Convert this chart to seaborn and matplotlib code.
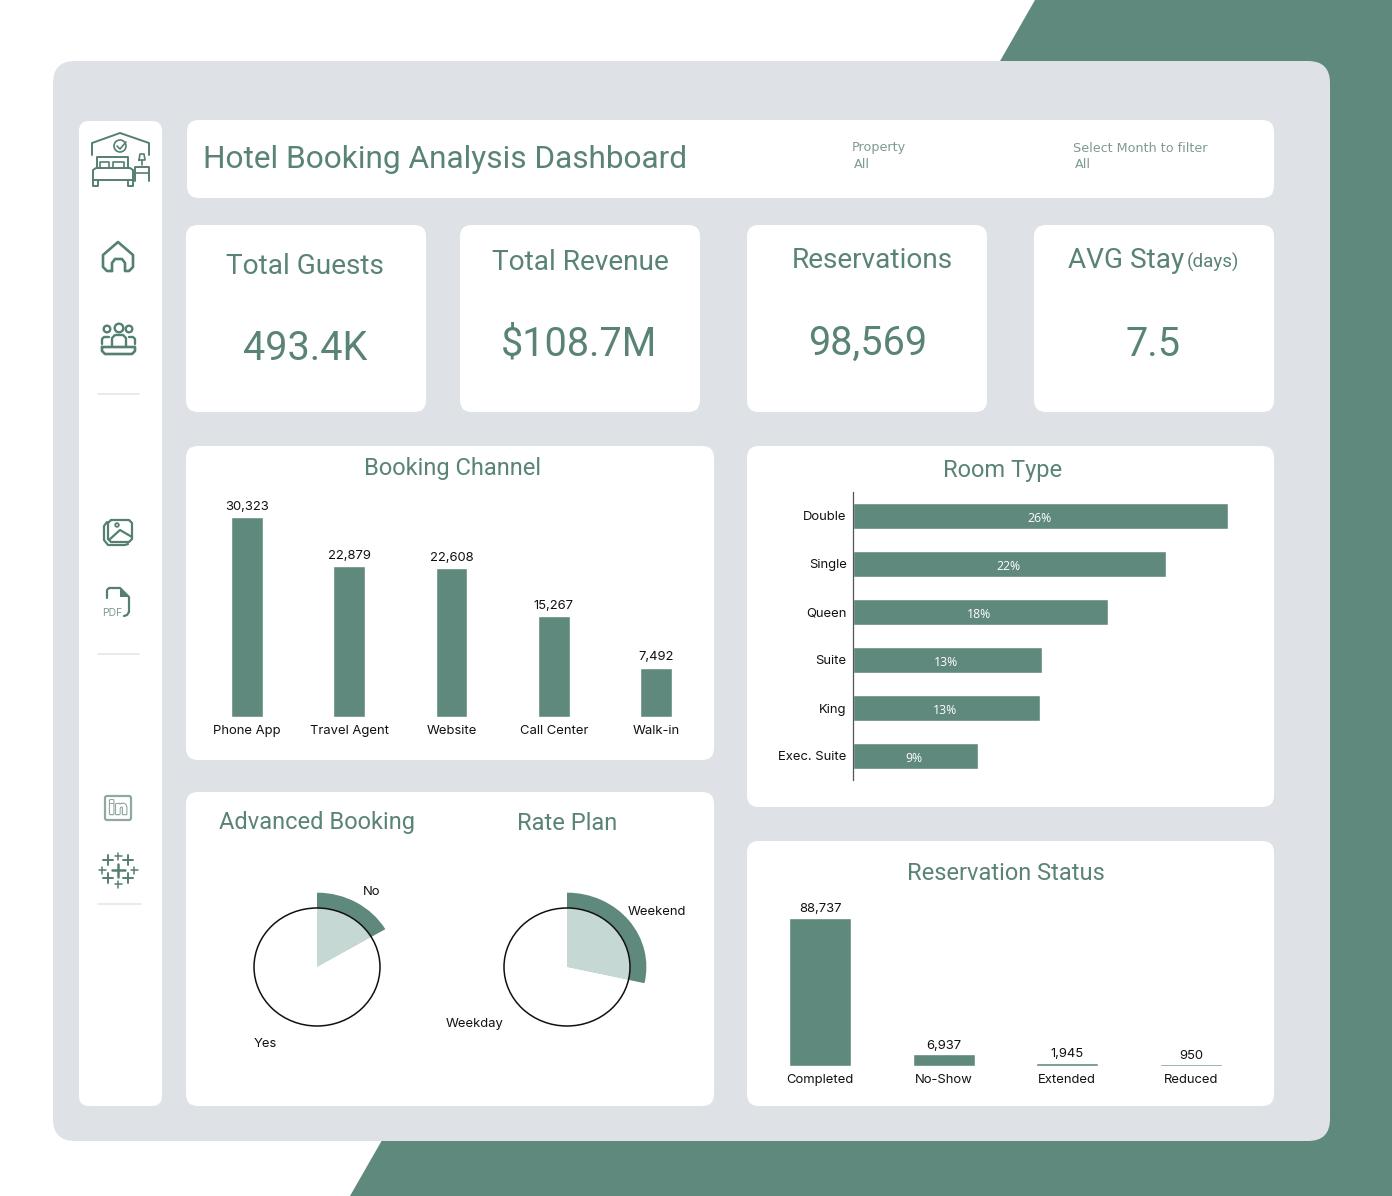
import matplotlib
matplotlib.use("Agg")
import matplotlib.pyplot as plt
import matplotlib.patheffects as pe
from matplotlib.patches import FancyBboxPatch, Polygon, Circle
import seaborn as sns

# chart values
channels = ["Phone App", "Travel Agent", "Website", "Call Center", "Walk-in"]
channel_bookings = [30323, 22879, 22608, 15267, 7492]
room_types = ["Double", "Single", "Queen", "Suite", "King", "Exec. Suite"]
room_shares = [26.0, 21.7, 17.7, 13.1, 13.0, 8.7]
statuses = ["Completed", "No-Show", "Extended", "Reduced"]
status_counts = [88737, 6937, 1945, 950]
advanced_labels = ["No", "Yes"]
advanced_shares = [16.5, 83.5]
rate_labels = ["Weekend", "Weekday"]
rate_shares = [28.5, 71.5]
kpi_names = ["Total Guests", "Total Revenue", "Reservations", "AVG Stay"]
kpi_values = ["493.4K", "$108.7M", "98,569", "7.5"]

W, H = 1392, 1196
GREEN = "#5F897C"
TEXT = "#5A8377"
LIGHT = "#C6D8D3"
PANEL = "#DEE2E7"
ICON = "#557F72"
LABEL_FONT = "Inter"

sns.set_theme(style="white")
plt.rcParams["font.family"] = ["Roboto", "DejaVu Sans"]

fig = plt.figure(figsize=(W / 100, H / 100), dpi=100, facecolor="white")

# full figure axes in pixel coordinates for cards, titles and icons
bg = fig.add_axes([0, 0, 1, 1], zorder=0)
bg.set_xlim(0, W)
bg.set_ylim(H, 0)
bg.axis("off")


def card(x0, y0, x1, y1, r=12, color="white"):
    bg.add_patch(FancyBboxPatch((x0, y0), x1 - x0, y1 - y0,
                                boxstyle=f"round,pad=0,rounding_size={r}",
                                fc=color, ec="none"))


def px_axes(x0, y0, x1, y1):
    return fig.add_axes([x0 / W, 1 - y1 / H, (x1 - x0) / W, (y1 - y0) / H], zorder=2)


def stroke(points, color=ICON, lw=1.7):
    xs, ys = zip(*points)
    bg.plot(xs, ys, color=color, lw=lw, solid_capstyle="round", solid_joinstyle="round")


def ring(x, y, r, color=ICON, lw=1.7):
    bg.add_patch(Circle((x, y), r, fc="none", ec=color, lw=lw))


def plus(x, y, s, lw=1.7):
    stroke([(x - s, y), (x + s, y)], lw=lw)
    stroke([(x, y - s), (x, y + s)], lw=lw)


def column_chart(box, names, values, bar_width, label_pad):
    ax = px_axes(*box)
    sns.barplot(x=names, y=values, color=GREEN, saturation=1, width=bar_width, ax=ax)
    ax.set_ylim(0, max(values))
    ax.set_yticks([])
    ax.tick_params(axis="x", length=0, pad=5.8, labelsize=9.4, labelcolor="#111111")
    for t in ax.get_xticklabels():
        t.set_family(LABEL_FONT)
    ax.bar_label(ax.containers[0], labels=[f"{v:,}" for v in values], padding=label_pad,
                 fontsize=9.4, color="#111111", family=LABEL_FONT)
    ax.patch.set_alpha(0)
    sns.despine(ax=ax, left=True, bottom=True)
    return ax


def pie_chart(cx, cy, shares):
    rx, ry = 63, 59
    outer = 1.26
    ax = px_axes(cx - rx * 1.4, cy - ry * 1.4, cx + rx * 1.4, cy + ry * 1.4)
    ax.pie(shares, radius=outer, startangle=90, counterclock=False,
           colors=[GREEN, "none"], wedgeprops={"linewidth": 0})
    ax.pie(shares, radius=1, startangle=90, counterclock=False,
           colors=[LIGHT, "white"], wedgeprops={"linewidth": 0})
    ax.add_patch(Circle((0, 0), 1, fc="none", ec="#111111", lw=1.1, zorder=5))
    ax.set_aspect("auto")
    ax.set_xlim(-1.4, 1.4)
    ax.set_ylim(-1.4, 1.4)
    ax.patch.set_alpha(0)


# background
bg.add_patch(Polygon([(1035, 0), (W, 0), (W, H), (350, H)], fc=GREEN, ec="none"))
card(53, 61, 1330, 1141, r=22, color=PANEL)
card(79, 121, 162, 1106, r=10)
card(187, 120, 1274, 198)
for x0 in [186, 460, 747, 1034]:
    card(x0, 225, x0 + 240, 412)
card(186, 446, 714, 760)
card(747, 446, 1274, 807)
card(186, 792, 714, 1106)
card(747, 841, 1274, 1106)

# header
bg.text(203, 159, "Hotel Booking Analysis Dashboard", fontsize=22.8, color=TEXT, va="center")
for x, name in [(852, "Property"), (1073, "Select Month to filter")]:
    bg.text(x, 148, name, fontsize=9.2, color="#7E9A91", family="DejaVu Sans", va="center")
    bg.text(x + 2, 164, "All", fontsize=9.2, color="#7E9A91", family="DejaVu Sans", va="center")

# kpi cards
kpi_name_pos = [(305, 266), (580, 263), (872, 260), (1126.5, 260)]
kpi_value_pos = [(305, 348), (579, 344), (868, 343), (1153, 344)]
for name, pos in zip(kpi_names, kpi_name_pos):
    bg.text(pos[0], pos[1], name, fontsize=20.2, color=TEXT, ha="center", va="center")
bg.text(1187, 262, "(days)", fontsize=13.5, color=TEXT, va="center")
for value, pos in zip(kpi_values, kpi_value_pos):
    bg.text(pos[0], pos[1], value, fontsize=28.5, color=TEXT, ha="center", va="center")

# chart titles
for x, y, t in [(452, 469, "Booking Channel"), (1003, 471, "Room Type"),
                (317, 823, "Advanced Booking"), (567, 823, "Rate Plan"),
                (1006, 873, "Reservation Status")]:
    bg.text(x, y, t, fontsize=17, color=TEXT, ha="center", va="center")

# bars
column_chart((196, 517, 707, 717), channels, channel_bookings, 0.31, 3)
column_chart((758.5, 918, 1252.5, 1066), statuses, status_counts, 0.505, 2)

ax_room = px_axes(853, 492, 1240, 780)
sns.barplot(x=room_shares, y=room_types, color=GREEN, saturation=1, width=0.53,
            orient="h", ax=ax_room)
ax_room.set_xlim(0, 387 / 14.42)
ax_room.set_xticks([])
ax_room.tick_params(axis="y", length=0, pad=4.5, labelsize=9.4, labelcolor="#111111")
for t in ax_room.get_yticklabels():
    t.set_family(LABEL_FONT)
pct_labels = ax_room.bar_label(ax_room.containers[0], labels=[f"{round(v)}%" for v in room_shares],
                               label_type="center", fontsize=8.8, color="white", family="Open Sans")
for t in pct_labels:
    t.xyann = (-1, -1.5)
ax_room.patch.set_alpha(0)
sns.despine(ax=ax_room, bottom=True)
ax_room.spines["left"].set_color("#555555")
ax_room.spines["left"].set_linewidth(0.9)
ax_room.spines["left"].set_bounds(5.5, -0.5)

# pies
pie_chart(317, 967, advanced_shares)
pie_chart(567, 967, rate_shares)
for x, y, t in [(372, 892, advanced_labels[0]), (265, 1044, advanced_labels[1]),
                (657, 912, rate_labels[0]), (475, 1024, rate_labels[1])]:
    bg.text(x, y, t, fontsize=9.4, color="#111111", family=LABEL_FONT, ha="center", va="center")

# sidebar separators
for y, x1 in [(394, 139), (654, 139), (904, 141)]:
    stroke([(98, y), (x1, y)], color="#E4E6E8", lw=1.2)

# hotel icon
stroke([(92, 155), (92, 143), (120, 133), (149, 143), (149, 155)], lw=1.4)
ring(120, 146, 6, lw=1.2)
stroke([(117, 146), (120, 149), (126, 142)], lw=1.2)
stroke([(97, 168), (97, 157), (128, 157), (128, 168)], lw=1.4)
stroke([(100, 168), (100, 162), (109, 162), (109, 168)], lw=1.2)
stroke([(113, 168), (113, 162), (124, 162), (124, 168)], lw=1.2)
stroke([(93, 180), (93, 170), (96, 168), (130, 168), (133, 170), (133, 180), (93, 180)], lw=1.4)
stroke([(93, 180), (93, 186), (98, 186), (98, 181)], lw=1.4)
stroke([(133, 180), (133, 186), (128, 186), (128, 181)], lw=1.4)
stroke([(135, 181), (135, 167), (149, 167), (149, 181)], lw=1.4)
stroke([(135, 173), (149, 173)], lw=1.2)
stroke([(139, 160), (140, 154), (144, 154), (145, 160), (139, 160)], lw=1.2)
stroke([(142, 160), (142, 165)], lw=1.2)

# home icon
stroke([(112, 271), (107, 271), (103, 267), (103, 255), (118, 242), (133, 255),
        (133, 267), (129, 271), (125, 271), (125, 263), (122, 259), (115, 259),
        (112, 263), (112, 271)], lw=1.9)

# people icon
ring(107, 329, 3.3)
ring(119, 328, 4.3)
ring(129, 329, 3.3)
stroke([(102, 344), (102, 339), (104, 337), (109, 337)])
stroke([(112, 346), (112, 338), (115, 335), (123, 335), (126, 338), (126, 346)])
stroke([(135, 344), (135, 339), (133, 337), (129, 337)])
stroke([(102, 347), (135, 347), (135, 351), (132, 354), (105, 354), (102, 351), (102, 347)], lw=1.9)

# image icon
stroke([(111, 520), (129, 520), (132, 523), (132, 539), (129, 542), (111, 542),
        (108, 539), (108, 523), (111, 520)], lw=1.6)
stroke([(107, 522), (104, 526), (104, 540), (108, 545), (125, 545), (128, 544)], lw=1.6)
stroke([(109, 540), (120, 530), (132, 537)], lw=1.6)
ring(117, 525, 1.8, lw=1.3)

# pdf icon
stroke([(107, 598), (107, 590), (109, 588), (120, 588), (129, 597), (129, 612),
        (127, 615), (124, 616)], lw=1.6)
bg.add_patch(Polygon([(120, 588), (129, 597), (120, 597)], fc=ICON, ec="none"))
bg.text(112, 613, "PDF", fontsize=7.5, color="#7E9A91", family="Inter", ha="center", va="center")

# linkedin icon
bg.add_patch(FancyBboxPatch((105, 796), 26, 24, boxstyle="round,pad=0,rounding_size=2",
                            fc="none", ec="#8FA8A0", lw=1.6))
bg.text(118, 809, "in", fontsize=13, color="white", family="DejaVu Sans", weight="bold",
        ha="center", va="center",
        path_effects=[pe.withStroke(linewidth=1.8, foreground="#8FA8A0"), pe.Normal()])

# tableau icon
plus(118, 870, 6.5, lw=1.8)
for x, y in [(108, 860), (128, 860), (108, 878), (128, 878)]:
    plus(x, y, 5, lw=1.4)
for x, y in [(118, 856), (118, 884), (102, 870), (134, 870)]:
    plus(x, y, 3.5, lw=1.1)

fig.savefig("out.png", dpi=100, facecolor="white")
